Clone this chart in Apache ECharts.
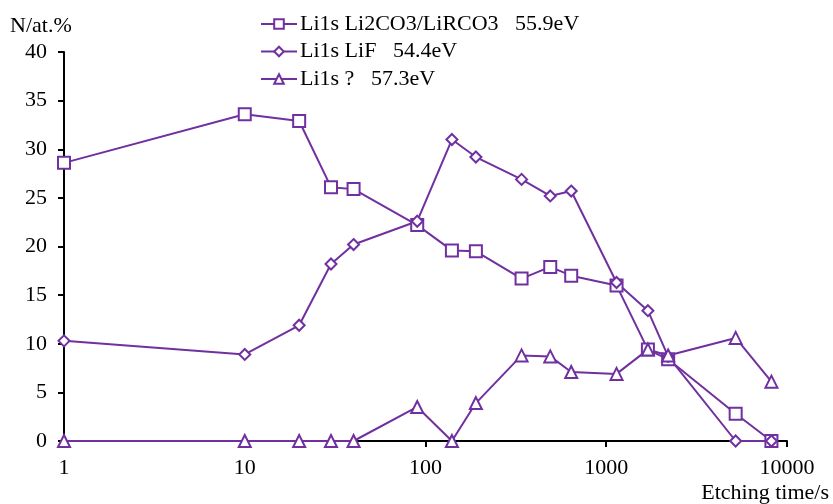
<!DOCTYPE html>
<html>
<head>
<meta charset="utf-8">
<script src="https://cdn.jsdelivr.net/npm/echarts@6/dist/echarts.min.js"></script>
<style>
  html, body { margin: 0; padding: 0; background: #fff; }
  #chart { width: 833px; height: 504px; }
</style>
</head>
<body>
<div id="chart"></div>
<script>
// Etching time (s) for each depth-profile step
var etchTimes = [1, 10, 20, 30, 40, 90, 140, 190, 340, 490, 640, 1140, 1700, 2200, 5200, 8200];

// Li1s component concentrations (at.%)
var li2co3 = [28.6, 33.6, 32.9, 26.1, 25.9, 22.2, 19.6, 19.5, 16.7, 17.9, 17.0, 16.0, 9.4, 8.4, 2.8, 0];
var lif    = [10.3, 8.9, 11.9, 18.2, 20.2, 22.6, 31.0, 29.2, 26.9, 25.2, 25.7, 16.3, 13.4, 8.7, 0, 0];
var unknown = [0, 0, 0, 0, 0, 3.5, 0, 3.9, 8.8, 8.7, 7.1, 6.9, 9.4, 8.8, 10.6, 6.1];

var seriesNames = [
  'Li1s Li2CO3/LiRCO3   55.9eV',
  'Li1s LiF   54.4eV',
  'Li1s ?   57.3eV'
];
var yTicks = [0, 5, 10, 15, 20, 25, 30, 35, 40];

var purple = '#7030A0';
var font = '"Liberation Serif", "Times New Roman", serif';
var fontSize = 22;

function pairs(values) {
  return etchTimes.map(function (t, i) { return [t, values[i]]; });
}

function lineSeries(name, values, symbol, size) {
  return {
    name: name,
    type: 'line',
    data: pairs(values),
    symbol: symbol,
    symbolSize: size,
    showAllSymbol: true,
    lineStyle: { color: purple, width: 2 },
    itemStyle: { color: purple, borderColor: purple, borderWidth: 2.6 },
    emphasis: { disabled: true },
    animation: false
  };
}

var chart = echarts.init(document.getElementById('chart'), null, { renderer: 'canvas' });

chart.setOption({
  backgroundColor: '#fff',
  animation: false,
  grid: { left: 64, right: 46, top: 52, bottom: 63, containLabel: false },
  legend: {
    orient: 'vertical',
    left: 260,
    top: 13,
    padding: 0,
    itemWidth: 36,
    itemHeight: 12,
    itemGap: 5.5,
    data: seriesNames,
    textStyle: { fontFamily: font, fontSize: fontSize, color: '#000', lineHeight: 22, padding: [0, 0, 0, -2] },
    selectedMode: false
  },
  xAxis: {
    type: 'log',
    logBase: 10,
    min: 1,
    max: 10000,
    axisLine: { show: true, lineStyle: { color: '#000', width: 2 } },
    axisTick: { show: true, inside: false, length: 6, lineStyle: { color: '#000', width: 2 } },
    minorTick: { show: false },
    splitLine: { show: false },
    axisLabel: {
      fontFamily: font, fontSize: fontSize, color: '#000', margin: 16,
      formatter: function (v) { return String(Math.round(v)); }
    }
  },
  yAxis: {
    type: 'value',
    min: yTicks[0],
    max: yTicks[yTicks.length - 1],
    interval: 5,
    axisLine: { show: true, lineStyle: { color: '#000', width: 2 } },
    axisTick: { show: true, inside: false, length: 6, lineStyle: { color: '#000', width: 2 } },
    splitLine: { show: false },
    axisLabel: { fontFamily: font, fontSize: fontSize, color: '#000', margin: 17 }
  },
  graphic: [
    {
      type: 'text',
      left: 10,
      top: 15,
      style: { text: 'N/at.%', font: fontSize + 'px ' + font, fill: '#000' }
    },
    {
      type: 'text',
      right: 4,
      top: 482,
      style: { text: 'Etching time/s', font: fontSize + 'px ' + font, fill: '#000' }
    }
  ],
  series: [
    lineSeries(seriesNames[0], li2co3, 'emptyRect', 12),
    lineSeries(seriesNames[1], lif, 'emptyDiamond', 11),
    lineSeries(seriesNames[2], unknown, 'emptyTriangle', 12)
  ]
});
</script>
</body>
</html>
